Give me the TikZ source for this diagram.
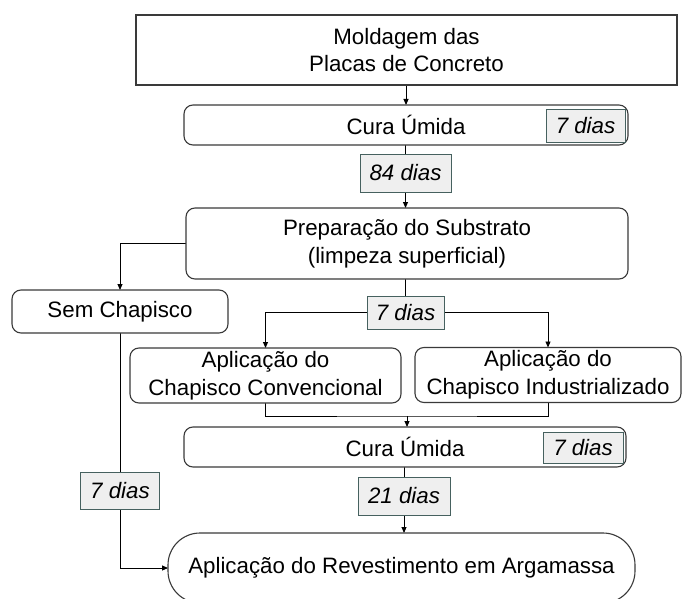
\documentclass[tikz,border=0pt]{standalone}
\usepackage{fontspec}
\setmainfont{Liberation Sans}
\usetikzlibrary{arrows.meta,backgrounds}
\definecolor{lblfill}{HTML}{EFEFEF}
\definecolor{lbldraw}{HTML}{46615F}
\definecolor{boxdraw}{HTML}{3A3A3A}
\begin{document}
\begin{tikzpicture}[x=1pt,y=-1pt,
  every node/.style={inner sep=0pt,outer sep=0pt,font=\fontsize{22.3}{27.7}\selectfont,align=center},
  plainbox/.style={draw=boxdraw,line width=1.1pt,fill=white},
  rbox/.style={draw=boxdraw,line width=1.1pt,fill=white,rounded corners=9pt},
  lbl/.style={draw=lbldraw,line width=0.9pt,fill=lblfill,font=\fontsize{22.3}{27.7}\selectfont\itshape},
  conn/.style={draw=black,line width=0.9pt},
  arr/.style={conn,-{Triangle[length=6pt,width=5pt]}}]
\useasboundingbox (0,0) rectangle (682,599);
\clip (0,0) rectangle (682,599);
% nodes
\node[plainbox,minimum width=541pt,minimum height=70pt] (mold) at (406.5,50) {Moldagem das\\Placas de Concreto};
\node[rbox,minimum width=444pt,minimum height=40pt] (cura1) at (406,125) {Cura Úmida};
\node[lbl,minimum width=79pt,minimum height=33pt] (l1) at (585.5,125.5) {7 dias};
\node[lbl,minimum width=91pt,minimum height=38pt] (d84) at (405.5,173) {84 dias};
\node[rbox,minimum width=442pt,minimum height=71pt] (prep) at (407,243.5) {Preparação do Substrato\\(limpeza superficial)};
\node[rbox,minimum width=216pt,minimum height=43pt] (sem) at (120,311.5) {Sem Chapisco};
\node[lbl,minimum width=77pt,minimum height=33pt] (d7a) at (405.5,312.5) {7 dias};
\node[rbox,minimum width=271pt,minimum height=55pt] (conv) at (265.5,375.5) {Aplicação do\\Chapisco Convencional};
\node[rbox,minimum width=266pt,minimum height=55pt] (ind) at (548,375) {Aplicação do\\Chapisco Industrializado};
\node[rbox,minimum width=442pt,minimum height=40pt] (cura2) at (405,447) {Cura Úmida};
\node[lbl,minimum width=80pt,minimum height=31pt] (l2) at (583,447.5) {7 dias};
\node[lbl,minimum width=92pt,minimum height=38pt] (d21) at (404,496) {21 dias};
\node[lbl,minimum width=79pt,minimum height=37pt] (d7b) at (120,490.5) {7 dias};
\node[draw=boxdraw,line width=1.1pt,fill=white,rounded corners=32pt,minimum width=467pt,minimum height=70pt] (arg) at (401.5,568) {Aplicação do Revestimento em Argamassa};
\coordinate (merge) at (407,416);
\coordinate (semturn) at (120,568);
% connectors
\begin{scope}[on background layer]
\draw[arr] (mold.south -| cura1.north) -- (cura1.north);
\draw[conn] (cura1.south -| d84.north) -- (d84.north);
\draw[arr] (d84.south) -- (d84.south |- prep.north);
\draw[arr] (prep.west) -| (sem.north);
\draw[conn] (prep.south -| d7a.north) -- (d7a.north);
\draw[arr] (d7a.west) -| (conv.north);
\draw[arr] (d7a.east) -| (ind.north);
\draw[conn] (conv.south) |- (merge) -| (ind.south);
\draw[arr] (merge) -- (merge |- cura2.north);
\draw[conn] (cura2.south -| d21.north) -- (d21.north);
\draw[arr] (d21.south) -- (d21.south |- arg.north);
\draw[conn] (sem.south) -- (d7b.north);
\draw[arr] (d7b.south) -- (semturn) -- (arg.west);
\end{scope}
\end{tikzpicture}
\end{document}
